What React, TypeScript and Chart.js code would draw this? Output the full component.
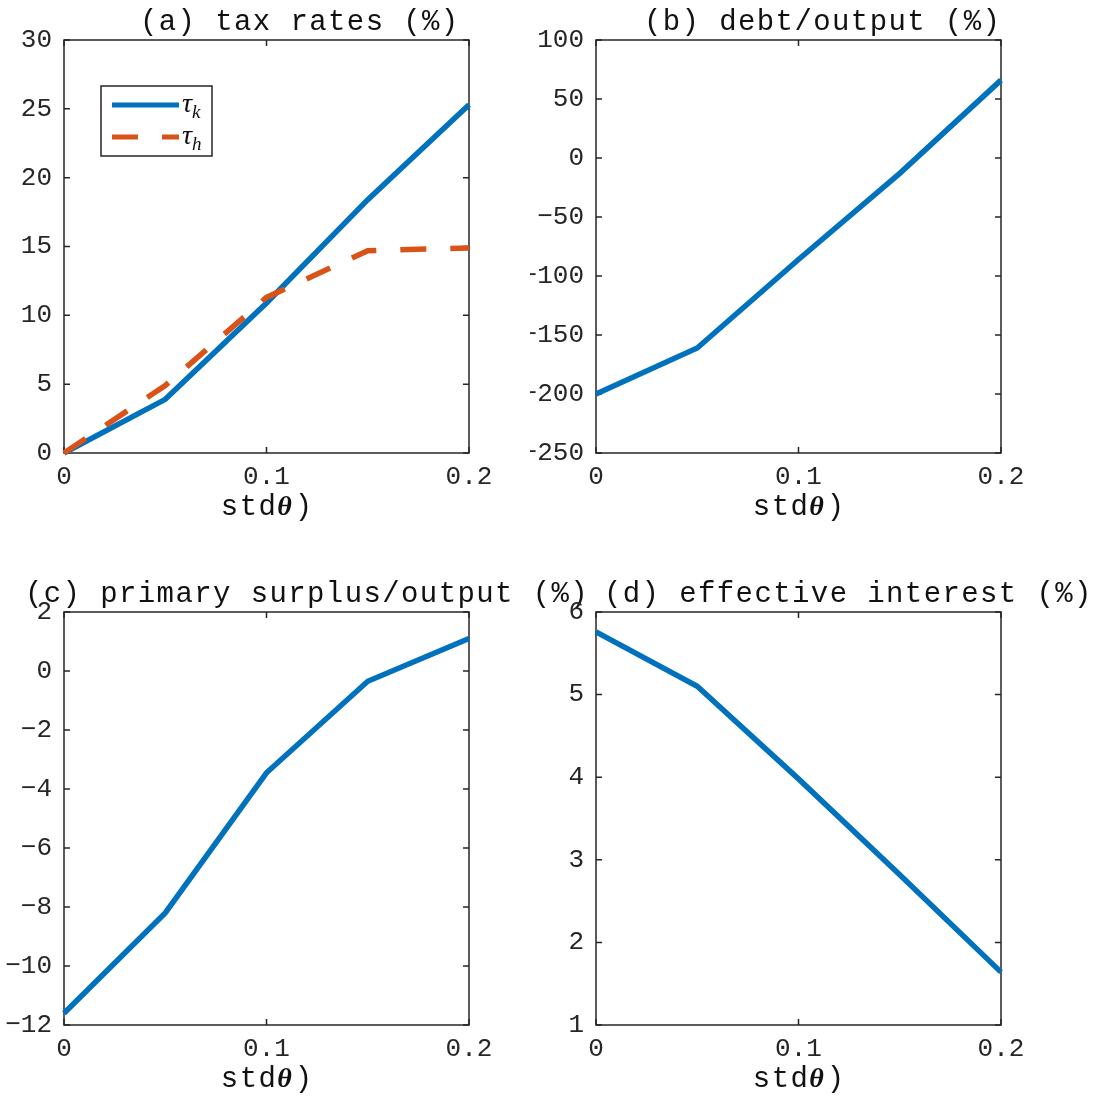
import React, { useEffect, useRef } from "react";
import { Chart, registerables } from "chart.js";

Chart.register(...registerables);

// ---------- data ----------
const stdTheta = [0, 0.05, 0.1, 0.15, 0.2];
const xTicks = [0, 0.1, 0.2];
const xTickLabels = ["0", "0.1", "0.2"];

const tauK = [0, 3.9, 10.9, 18.4, 25.3];
const tauH = [0, 4.9, 11.3, 14.7, 14.9];
const debtOutput = [-200, -161, -86, -13, 66];
const primarySurplus = [-11.6, -8.2, -3.45, -0.35, 1.1];
const effectiveInterest = [5.76, 5.1, 3.98, 2.82, 1.64];

const yTicksA = [0, 5, 10, 15, 20, 25, 30];
const yTicksB = [-250, -200, -150, -100, -50, 0, 50, 100];
const yTicksC = [-12, -10, -8, -6, -4, -2, 0, 2];
const yTicksD = [1, 2, 3, 4, 5, 6];

const titles = [
  "(a) tax rates (%)",
  "(b) debt/output (%)",
  "(c) primary surplus/output (%)",
  "(d) effective interest (%)",
];
const xLabelParts = ["std", "θ", ")"];
const legendSymbol = "τ";
const legendSubs = ["k", "h"];

// ---------- style ----------
const BLUE = "#0072BD";
const RED = "#D95319";
const AXIS = "#262626";
const MONO = "'Liberation Mono', 'Courier New', monospace";
const SERIF = "'Liberation Serif', 'DejaVu Serif', serif";
const TITLE_SIZE = 29;
const TITLE_SPACING = "1.4px";

type Panel = {
  cx: number; cy: number; cw: number; ch: number;
  L: number; T: number; R: number; B: number;
  titleLeft: number;
  yTicks: number[];
  series: { label: string; values: number[]; color: string; dash?: number[]; order: number }[];
  legend: boolean;
};

const panels: Panel[] = [
  {
    cx: 0, cy: 0, cw: 600, ch: 545, L: 64, T: 40, R: 469, B: 453, titleLeft: 140,
    yTicks: yTicksA,
    series: [
      { label: legendSymbol + legendSubs[0], values: tauK, color: BLUE, order: 1 },
      { label: legendSymbol + legendSubs[1], values: tauH, color: RED, dash: [26, 24], order: 0 },
    ],
    legend: true,
  },
  {
    cx: 530, cy: 0, cw: 575, ch: 545, L: 596, T: 40, R: 1001, B: 453, titleLeft: 644,
    yTicks: yTicksB,
    series: [{ label: "debt", values: debtOutput, color: BLUE, order: 0 }],
    legend: false,
  },
  {
    cx: 0, cy: 565, cw: 600, ch: 534, L: 64, T: 612, R: 469, B: 1025, titleLeft: 25,
    yTicks: yTicksC,
    series: [{ label: "surplus", values: primarySurplus, color: BLUE, order: 0 }],
    legend: false,
  },
  {
    cx: 530, cy: 565, cw: 575, ch: 534, L: 596, T: 612, R: 1001, B: 1025, titleLeft: 604,
    yTicks: yTicksD,
    series: [{ label: "interest", values: effectiveInterest, color: BLUE, order: 0 }],
    legend: false,
  },
];

const fmt = (v: number) => (v < 0 ? "\u2212" + Math.abs(v) : String(v));

const matlabPlugin = {
  id: "matlab",
  beforeDatasetsDraw(chart: any) {
    const { ctx, chartArea } = chart;
    const { left, top, right, bottom } = chartArea;
    ctx.save();
    ctx.strokeStyle = AXIS;
    ctx.lineWidth = 1.5;
    ctx.strokeRect(left, top, right - left, bottom - top);
    const tl = 6;
    const xs = chart.scales.x;
    const ys = chart.scales.y;
    ctx.beginPath();
    xs.ticks.forEach((t: any) => {
      const px = xs.getPixelForValue(t.value);
      ctx.moveTo(px, bottom);
      ctx.lineTo(px, bottom - tl);
      ctx.moveTo(px, top);
      ctx.lineTo(px, top + tl);
    });
    ys.ticks.forEach((t: any) => {
      const py = ys.getPixelForValue(t.value);
      ctx.moveTo(left, py);
      ctx.lineTo(left + tl, py);
      ctx.moveTo(right, py);
      ctx.lineTo(right - tl, py);
    });
    ctx.stroke();
    ctx.restore();
  },
  afterDraw(chart: any, _args: any, opts: any) {
    const { ctx, chartArea } = chart;
    const { left, top, right, bottom } = chartArea;
    ctx.save();
    // title
    ctx.fillStyle = "#111111";
    ctx.textBaseline = "alphabetic";
    ctx.textAlign = "left";
    ctx.font = `${TITLE_SIZE}px ${MONO}`;
    (ctx as any).letterSpacing = TITLE_SPACING;
    ctx.fillText(opts.title, opts.titleLeft, top - 10);

    // x label: std θ )
    const w0 = ctx.measureText(xLabelParts[0]).width;
    (ctx as any).letterSpacing = "0px";
    ctx.font = `bold italic 28px ${SERIF}`;
    const w1 = ctx.measureText(xLabelParts[1]).width + 3;
    ctx.font = `${TITLE_SIZE}px ${MONO}`;
    const w2 = ctx.measureText(xLabelParts[2]).width;
    const total = w0 + w1 + w2;
    let x = (left + right) / 2 - total / 2;
    const by = bottom + 62;
    ctx.font = `${TITLE_SIZE}px ${MONO}`;
    (ctx as any).letterSpacing = TITLE_SPACING;
    ctx.fillText(xLabelParts[0], x, by);
    x += w0;
    (ctx as any).letterSpacing = "0px";
    ctx.font = `bold italic 28px ${SERIF}`;
    ctx.fillText(xLabelParts[1], x, by);
    x += w1;
    ctx.font = `${TITLE_SIZE}px ${MONO}`;
    ctx.fillText(xLabelParts[2], x, by);

    // legend
    if (opts.legend) {
      const bx = left + 37;
      const byy = top + 46;
      const bw = 111;
      const bh = 70;
      ctx.fillStyle = "#ffffff";
      ctx.fillRect(bx, byy, bw, bh);
      ctx.strokeStyle = AXIS;
      ctx.lineWidth = 1.5;
      ctx.strokeRect(bx, byy, bw, bh);
      chart.data.datasets.forEach((ds: any, i: number) => {
        const ly = byy + 19 + i * 32;
        ctx.save();
        ctx.strokeStyle = ds.borderColor;
        ctx.lineWidth = 5;
        ctx.lineCap = "butt";
        ctx.setLineDash(ds.borderDash || []);
        ctx.beginPath();
        ctx.moveTo(bx + 11, ly);
        ctx.lineTo(bx + 78, ly);
        ctx.stroke();
        ctx.restore();
        ctx.fillStyle = "#111111";
        ctx.font = `italic 28px ${SERIF}`;
        ctx.fillText(legendSymbol, bx + 81, ly + 7);
        const tw = ctx.measureText(legendSymbol).width;
        ctx.font = `italic 19px ${SERIF}`;
        ctx.fillText(legendSubs[i], bx + 81 + tw, ly + 13);
      });
    }
    ctx.restore();
  },
};

function makeConfig(p: Panel, idx: number): any {
  const yw = p.L - p.cx;
  const pt = p.T - p.cy;
  const pr = p.cx + p.cw - p.R;
  const xh = p.cy + p.ch - p.B;
  return {
    type: "line",
    data: {
      datasets: p.series.map((s) => ({
        label: s.label,
        data: stdTheta.map((x, i) => ({ x, y: s.values[i] })),
        borderColor: s.color,
        backgroundColor: s.color,
        borderWidth: 5.5,
        borderDash: s.dash || [],
        borderCapStyle: "butt",
        borderJoinStyle: "miter",
        pointRadius: 0,
        tension: 0,
        fill: false,
        clip: false,
        order: s.order,
      })),
    },
    plugins: [matlabPlugin],
    options: {
      animation: false,
      responsive: false,
      maintainAspectRatio: false,
      layout: { padding: { left: 0, top: pt, right: pr, bottom: 0 } },
      plugins: {
        legend: { display: false },
        tooltip: { enabled: false },
        title: { display: false },
        matlab: {
          title: titles[idx],
          titleLeft: p.titleLeft - p.cx,
          legend: p.legend,
        },
      },
      scales: {
        x: {
          type: "linear",
          min: xTicks[0],
          max: xTicks[xTicks.length - 1],
          grid: { display: false, drawTicks: false },
          border: { display: false },
          afterBuildTicks: (scale: any) => {
            scale.ticks = xTicks.map((v) => ({ value: v }));
          },
          afterFit: (scale: any) => {
            scale.height = xh;
          },
          ticks: {
            padding: 9,
            maxRotation: 0,
            autoSkip: false,
            color: AXIS,
            font: { family: MONO, size: 26 },
            callback: (v: number) => {
              const k = xTicks.findIndex((t) => Math.abs(t - v) < 1e-9);
              return k >= 0 ? xTickLabels[k] : "";
            },
          },
        },
        y: {
          type: "linear",
          min: p.yTicks[0],
          max: p.yTicks[p.yTicks.length - 1],
          grid: { display: false, drawTicks: false },
          border: { display: false },
          afterBuildTicks: (scale: any) => {
            scale.ticks = p.yTicks.map((v) => ({ value: v }));
          },
          afterFit: (scale: any) => {
            scale.width = yw;
          },
          ticks: {
            padding: 12,
            autoSkip: false,
            color: AXIS,
            font: { family: MONO, size: 26 },
            callback: (v: number) => fmt(v),
          },
        },
      },
    },
  };
}

export default function App() {
  const canvasRefs = useRef<(HTMLCanvasElement | null)[]>([]);
  useEffect(() => {
    const charts = panels.map((p, i) => new Chart(canvasRefs.current[i] as HTMLCanvasElement, makeConfig(p, i)));
    return () => charts.forEach((c) => c.destroy());
  }, []);
  return (
    <div>
      {panels.map((p, i) => (
        <canvas
          key={i}
          ref={(el) => {
            canvasRefs.current[i] = el;
          }}
          width={p.cw}
          height={p.ch}
          style={{ position: "absolute", left: p.cx, top: p.cy, width: p.cw, height: p.ch }}
        />
      ))}
    </div>
  );
}
